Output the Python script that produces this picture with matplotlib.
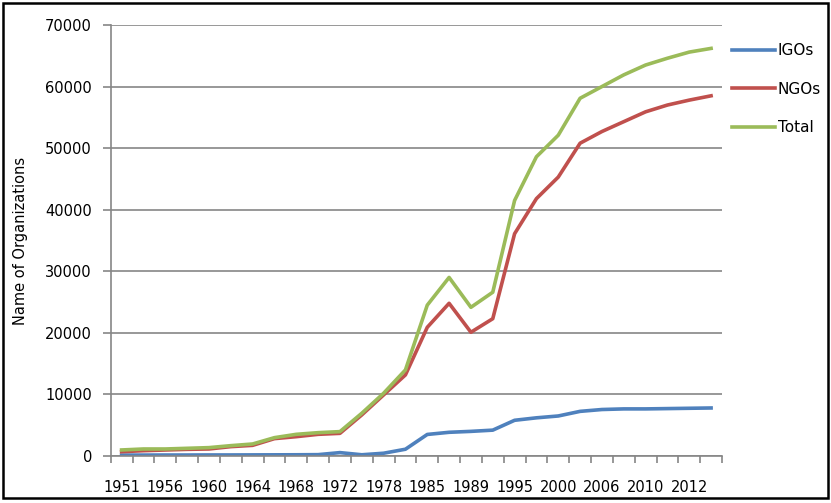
import numpy as np
import matplotlib.pyplot as plt
from matplotlib.patches import Rectangle
from matplotlib.ticker import FixedLocator

# categories (only every other one is labelled on the axis)
years = [1951, 1954, 1956, 1958, 1960, 1962, 1964, 1966, 1968, 1970,
         1972, 1976, 1978, 1981, 1985, 1987, 1989, 1992, 1995, 1998,
         2000, 2003, 2006, 2008, 2010, 2011, 2012, 2013]

igos = [150, 150, 160, 160, 170, 170, 180, 190, 200, 220,
        550, 200, 450, 1100, 3500, 3850, 4000, 4200, 5800, 6200,
        6500, 7250, 7550, 7650, 7650, 7700, 7750, 7800]
ngos = [700, 860, 975, 1080, 1140, 1520, 1730, 2820, 3140, 3520,
        3680, 6670, 9920, 13170, 20900, 24800, 20100, 22300, 36100, 41800,
        45300, 50800, 52700, 54300, 55900, 57000, 57800, 58500]
total = [980, 1140, 1140, 1250, 1360, 1680, 1950, 2980, 3520, 3790,
         3960, 6940, 10190, 13980, 24500, 29000, 24150, 26600, 41500, 48600,
         52100, 58100, 60000, 61900, 63500, 64600, 65600, 66200]

W, H = 831, 503
fig = plt.figure(figsize=(W / 100, H / 100), dpi=100)
ax = fig.add_axes([110.7 / W, 1 - 456 / H, (722 - 110.7) / W, (456 - 25) / H])

x = np.arange(len(years))
ax.plot(x, igos, color="#4F81BD", lw=2.6, label="IGOs", solid_joinstyle="round")
ax.plot(x, ngos, color="#C0504D", lw=2.6, label="NGOs", solid_joinstyle="round")
ax.plot(x, total, color="#9BBB59", lw=2.6, label="Total", solid_joinstyle="round")

ax.set_xlim(-0.5, len(years) - 0.5)
ax.set_ylim(0, 70000)
ax.set_yticks(np.arange(0, 70001, 10000))
ax.yaxis.grid(True, color="#868686", lw=1.2)
ax.set_axisbelow(True)

ax.set_xticks(x[::2])
ax.set_xticklabels([str(y) for y in years[::2]])
ax.xaxis.set_minor_locator(FixedLocator(np.arange(-0.5, len(years), 1)))
ax.tick_params(axis="x", which="major", length=0, pad=17, labelsize=10.5)
ax.tick_params(axis="x", which="minor", length=5, color="#868686", width=1.2)
ax.tick_params(axis="y", length=5.5, color="#868686", width=1.2, pad=8, labelsize=10.5)

for s in ["top", "right"]:
    ax.spines[s].set_visible(False)
for s in ["left", "bottom"]:
    ax.spines[s].set_color("#868686")
    ax.spines[s].set_linewidth(1.2)

ax.set_ylabel("Name of Organizations", fontsize=10.5)
ax.yaxis.set_label_coords((28 - 110.7) / (722 - 110.7), 0.5)

fig.legend(loc="upper left", bbox_to_anchor=(732 / W, 1 - 43 / H), frameon=False,
           fontsize=11, handlelength=2.8, handletextpad=0.2, labelspacing=1.55,
           borderpad=0, borderaxespad=0)

fig.patches.append(Rectangle((2.5 / W, 5 / H), (828 - 2.5) / W, (498 - 3) / H, transform=fig.transFigure,
                             fill=False, edgecolor="black", lw=1.8))

fig.savefig("out.png", dpi=100)
